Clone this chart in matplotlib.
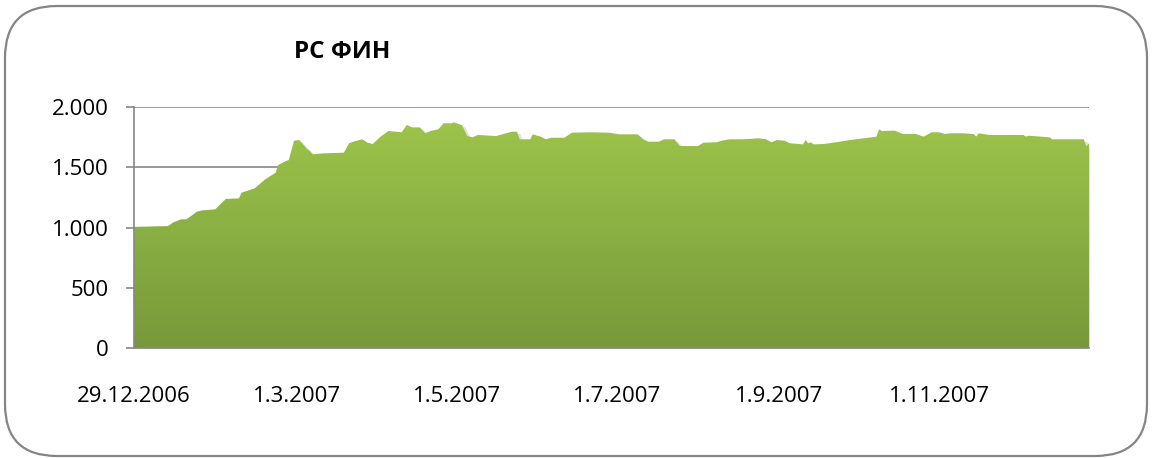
import numpy as np
import pandas as pd
import matplotlib
matplotlib.use("Agg")
import matplotlib.pyplot as plt
import matplotlib.dates as mdates
import matplotlib.transforms as mtransforms
from matplotlib.patches import FancyBboxPatch
from matplotlib.colors import LinearSegmentedColormap

# ---------------- data ----------------
title = "РС ФИН"
start_date = "2006-12-29"
day_offsets = [0, 13, 15, 18, 20, 24, 26, 31, 35, 40, 41, 46, 50, 54, 55, 58, 59, 61,
               63, 66, 67, 68, 72, 80, 82, 84, 87, 89, 91, 94, 97, 102, 104, 106, 109,
               111, 113, 116, 118, 121, 122, 124, 125, 127, 129, 131, 138, 144, 146, 147,
               151, 152, 155, 157, 159, 164, 167, 174, 181, 185, 192, 194, 196, 200, 202,
               206, 208, 215, 217, 222, 224, 227, 232, 238, 241, 243, 245, 248, 250, 255,
               256, 257, 258, 259, 263, 269, 273, 278, 283, 284, 285, 290, 293, 298, 299,
               301, 304, 307, 309, 311, 316, 320, 321, 322, 326, 339, 340, 341, 349, 350,
               362, 363, 364]
values = [1005, 1012, 1043, 1068, 1068, 1131, 1142, 1151, 1237, 1242, 1289, 1325, 1400,
          1455, 1519, 1552, 1560, 1720, 1726, 1649, 1637, 1607, 1615, 1621, 1699, 1715,
          1732, 1704, 1693, 1754, 1801, 1790, 1851, 1831, 1831, 1781, 1801, 1815, 1865,
          1865, 1873, 1856, 1851, 1759, 1748, 1768, 1759, 1795, 1795, 1732, 1732, 1773,
          1754, 1732, 1745, 1745, 1787, 1790, 1787, 1773, 1773, 1734, 1712, 1712, 1732,
          1732, 1676, 1676, 1704, 1707, 1720, 1732, 1732, 1740, 1732, 1707, 1726, 1720,
          1699, 1690, 1726, 1699, 1707, 1690, 1693, 1712, 1726, 1740, 1754, 1815, 1801,
          1804, 1776, 1776, 1768, 1754, 1790, 1790, 1776, 1782, 1782, 1776, 1754, 1782,
          1768, 1768, 1754, 1762, 1748, 1732, 1732, 1672, 1699]
x_tick_dates = ["2006-12-29", "2007-03-01", "2007-05-01", "2007-07-01", "2007-09-01", "2007-11-01"]
x_tick_labels = ["29.12.2006", "1.3.2007", "1.5.2007", "1.7.2007", "1.9.2007", "1.11.2007"]
y_ticks = [0, 500, 1000, 1500, 2000]
y_tick_labels = ["0", "500", "1.000", "1.500", "2.000"]

# ---------------- figure ----------------
plt.rcParams["font.family"] = ["Open Sans", "DejaVu Sans"]
W, H = 1152, 458
fig = plt.figure(figsize=(W / 100, H / 100), dpi=100)
fig.patch.set_facecolor("white")

# rounded outer border
border = FancyBboxPatch((5 / W, 2 / H), (1147 - 5) / W, (452 - 2) / H,
                        boxstyle="round,pad=0,rounding_size=0.045",
                        transform=fig.transFigure, facecolor="none",
                        edgecolor="#858585", linewidth=1.6, mutation_aspect=W / H,
                        zorder=-1)
fig.patches.append(border)

left, right, top, bottom = 134, 1089, 107, 348
ax = fig.add_axes([left / W, 1 - bottom / H, (right - left) / W, (bottom - top) / H])
ax.set_facecolor("none")
ax.set_zorder(2)

x = mdates.date2num(pd.Timestamp(start_date) + pd.to_timedelta(day_offsets, unit="D"))
y = np.array(values, dtype=float)

xmin, xmax = x[0], x[-1]

# shadow
shadow_tr = mtransforms.offset_copy(ax.transData, fig=fig, x=3, y=-2, units="dots")
ax.fill_between(x, y, 0, color="#808080", alpha=0.25, lw=0, transform=shadow_tr, zorder=2)

# gradient fill
poly = ax.fill_between(x, y, 0, facecolor="none", edgecolor="none", zorder=3)
cmap = LinearSegmentedColormap.from_list("g", ["#77983a", "#8bb043", "#9fc64c"])
grad = np.linspace(0, 1, 256).reshape(-1, 1)
im = ax.imshow(grad, extent=[xmin, xmax, 0, 2000], origin="lower", aspect="auto",
               cmap=cmap, zorder=3, interpolation="bilinear")
im.set_clip_path(poly.get_paths()[0], transform=ax.transData)

ax.set_xlim(xmin, xmax)
ax.set_ylim(0, 2000)

# grid & axes
ax.set_yticks(y_ticks)
ax.set_yticklabels(y_tick_labels)
ax.yaxis.grid(True, color="#878787", linewidth=1.2, zorder=1)
ax.set_axisbelow(True)
ax.set_xticks(mdates.date2num(pd.to_datetime(x_tick_dates)))
ax.set_xticklabels(x_tick_labels)

for s in ["top", "right"]:
    ax.spines[s].set_visible(False)
for s in ["left", "bottom"]:
    ax.spines[s].set_color("#878787")
    ax.spines[s].set_linewidth(1.2)
    ax.spines[s].set_zorder(5)

ax.tick_params(axis="y", length=6, width=1.2, color="#878787", pad=12,
               labelsize=16, labelcolor="black")
ax.tick_params(axis="x", length=0, pad=27, labelsize=16, labelcolor="black")

fig.text(342 / W, 1 - 52 / H, title, ha="center", va="center",
         fontsize=17.5, fontweight="bold", color="black")

fig.savefig("out.png", dpi=100)
